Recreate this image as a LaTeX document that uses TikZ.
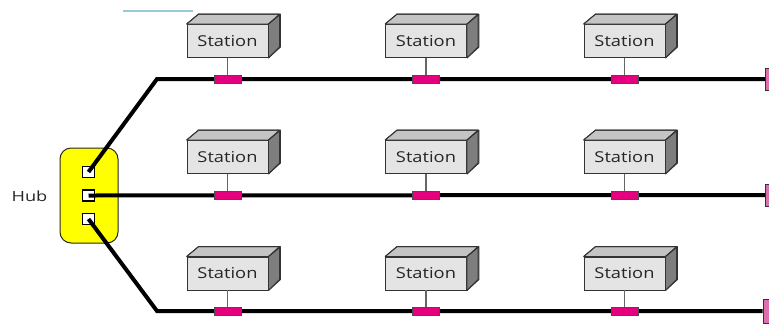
\documentclass[tikz,border=0pt]{standalone}
\usepackage{fontspec}
\setmainfont{Open Sans}
\definecolor{stfront}{HTML}{E4E4E4}
\definecolor{sttop}{HTML}{C4C4C4}
\definecolor{stside}{HTML}{7E7E7E}
\definecolor{tappink}{HTML}{E5007D}
\definecolor{termpink}{HTML}{DC6FAE}
\definecolor{hubyellow}{HTML}{FFFF00}
\definecolor{topblue}{HTML}{9CC8DC}
\tikzset{
  station/.style={draw=black!80, line width=0.9pt, fill=stfront, minimum width=81pt, minimum height=33pt, inner sep=0pt, font=\fontsize{15}{15}\selectfont, text=black!85},
  tapbox/.style={draw=black!70, line width=0.6pt, fill=tappink, minimum width=27pt, minimum height=8pt, inner sep=0pt},
  termbox/.style={draw=black!80, line width=0.8pt, fill=termpink, minimum width=7pt, minimum height=22pt, inner sep=0pt},
  portbox/.style={draw=black, line width=1.8pt, fill=white, minimum width=12pt, minimum height=11pt, inner sep=0pt},
  hubbox/.style={draw=black!85, line width=1pt, fill=hubyellow, rounded corners=11pt, minimum width=58pt, minimum height=95pt, inner sep=0pt},
  busline/.style={line width=4pt, line join=miter},
  dropline/.style={draw=black!60, line width=1.1pt},
  topface/.style={draw=black!80, line width=0.9pt, fill=sttop, line join=bevel},
  sideface/.style={draw=black!80, line width=0.9pt, fill=stside, line join=bevel},
}
\newcommand{\mkstation}[4]{% name, x, front-center y, bus y
  \node[station] (#1) at (#2,#3) {\scalebox{1.22}[1]{Station}};
  \fill[topface] (#1.north west) -- ++(12,-10) -- ++(81,0) -- (#1.north east) -- cycle;
  \fill[sideface] (#1.north east) -- ++(12,-10) -- ++(0,33) -- (#1.south east) -- cycle;
  \draw[topface,fill=none] (#1.north west) -- ++(12,-10) -- ++(81,0) -- ++(0,33) -- (#1.south east);
  \draw[topface,fill=none] (#1.north east) -- ++(12,-10);
  \node[tapbox] (#1tap) at (#2,#4) {};
  \draw[dropline] (#1.south) -- (#1tap.north);
}
\begin{document}
\begin{tikzpicture}[x=1pt,y=-1pt]
\useasboundingbox (0,0) rectangle (769,325);
% stray line at top
\draw[topblue, line width=1.5pt] (123,11) -- (193,11);
% hub
\node[hubbox] (hub) at (89,195.5) {};
\node[font=\fontsize{14}{14}\selectfont, text=black!85] (hublabel) at (29.5,196) {\scalebox{1.3}[1]{Hub}};
\node[portbox] (p1) at (88.5,172) {};
\node[portbox] (p2) at (88.5,195.5) {};
\node[portbox] (p3) at (88.5,219) {};
% terminators
\node[termbox] (t1) at (769,79) {};
\node[termbox] (t2) at (769,195) {};
\node[termbox, minimum width=10pt, minimum height=24pt] (t3) at (768,311) {};
% bends
\coordinate (b1) at (157,79);
\coordinate (b3) at (157,311);
% bus lines
\draw[busline] (p1.center) -- (b1) -- (t1.west);
\draw[busline] (p2.center) -- (t2.west);
\draw[busline] (p3.center) -- (b3) -- (t3.west);
\node[portbox, fill=none] at (p1) {};
\node[portbox, fill=none] at (p2) {};
\node[portbox, fill=none] at (p3) {};
% stations
\mkstation{s11}{227.5}{41}{79}
\mkstation{s12}{426}{41}{79}
\mkstation{s13}{624.5}{41}{79}
\mkstation{s21}{227.5}{157}{195}
\mkstation{s22}{426}{157}{195}
\mkstation{s23}{624.5}{157}{195}
\mkstation{s31}{227.5}{273.5}{311}
\mkstation{s32}{426}{273.5}{311}
\mkstation{s33}{624.5}{273.5}{311}
\end{tikzpicture}
\end{document}
